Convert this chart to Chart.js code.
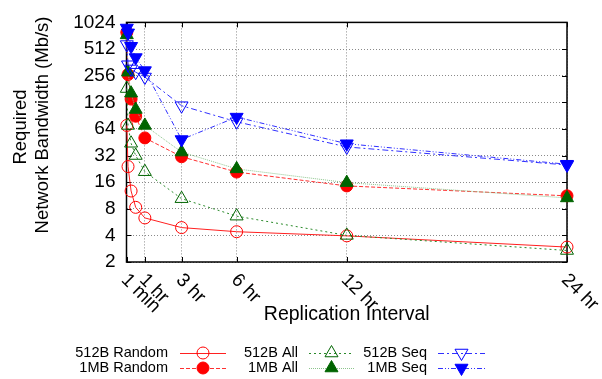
<!DOCTYPE html>
<html>
<head>
<meta charset="utf-8">
<script src="https://cdn.jsdelivr.net/npm/chart.js@4.4.1/dist/chart.umd.min.js"></script>
<style>
  html, body { margin: 0; padding: 0; background: #fff; }
</style>
</head>
<body>
<canvas id="bwChart" width="602" height="379"></canvas>
<script>
// replication interval, in minutes
const intervals = [1, 5, 15, 30, 60, 180, 360, 720, 1440];

// required bandwidth (Mb/s) per workload
const random512 = [70, 24, 12.7, 8.3, 6.3, 4.9, 4.4, 3.95, 2.95];
const random1M  = [790, 263, 139, 89, 50.6, 31, 20.8, 14.5, 11.2];
const all512    = [183, 70, 44, 32, 21, 10.4, 6.6, 4.0, 2.7];
const all1M     = [740, 280, 162, 106, 70, 35, 22.6, 15.8, 10.6];
const seq512    = [575, 340, 305, 280, 247, 117, 77, 40, 25];
const seq1M     = [885, 780, 550, 410, 292, 48.5, 87, 43.5, 25.5];

const yTicks = [2, 4, 8, 16, 32, 64, 128, 256, 512, 1024];
const xTicks = [1, 60, 180, 360, 720, 1440];
const xTickLabels = ['1 min', '1 hr', '3 hr', '6 hr', '12 hr', '24 hr'];

const FONT = "'Liberation Sans', Arial, Helvetica, sans-serif";
const GREEN = '#006400';

function pts(values) {
    return intervals.map((x, i) => ({ x: x, y: values[i] }));
}

const series = [
    { label: '512B Random', data: pts(random512), borderColor: '#ff2020', borderDash: [],
      pointStyle: 'circle', pointRadius: 6, pointBorderColor: '#ff0000', pointBackgroundColor: 'rgba(0,0,0,0)', pointRotation: 0 },
    { label: '1MB Random', data: pts(random1M), borderColor: '#ff3030', borderDash: [4, 2],
      pointStyle: 'circle', pointRadius: 6, pointBorderColor: '#ff0000', pointBackgroundColor: '#ff0000', pointRotation: 0 },
    { label: '512B All', data: pts(all512), borderColor: '#2a8a2a', borderDash: [2, 3],
      pointStyle: 'triangle', pointRadius: 7.5, pointBorderColor: GREEN, pointBackgroundColor: 'rgba(0,0,0,0)', pointRotation: 0 },
    { label: '1MB All', data: pts(all1M), borderColor: '#8cc48c', borderDash: [1, 1],
      pointStyle: 'triangle', pointRadius: 7.5, pointBorderColor: GREEN, pointBackgroundColor: GREEN, pointRotation: 0 },
    { label: '512B Seq', data: pts(seq512), borderColor: '#3030ff', borderDash: [6, 3, 2, 3],
      pointStyle: 'triangle', pointRadius: 7.5, pointBorderColor: '#0000ff', pointBackgroundColor: 'rgba(0,0,0,0)', pointRotation: 180 },
    { label: '1MB Seq', data: pts(seq1M), borderColor: '#3030ff', borderDash: [5, 2, 1, 2, 1, 2],
      pointStyle: 'triangle', pointRadius: 7.5, pointBorderColor: '#0000ff', pointBackgroundColor: '#0000ff', pointRotation: 180 }
];

// legend slots: column = workload, row = block size
const legendCols = [
    { textRight: 168, x1: 180, x2: 226 },
    { textRight: 298, x1: 309, x2: 354 },
    { textRight: 427, x1: 438, x2: 485 }
];
const legendRows = [353, 368];

// frame, inner tick marks, rotated x labels, titles and legend
const decorations = {
    id: 'decorations',
    beforeDatasetsDraw(chart) {
        const ctx = chart.ctx;
        const a = chart.chartArea;
        const xs = chart.scales.x, ys = chart.scales.y;
        ctx.save();
        ctx.strokeStyle = '#000';
        ctx.lineWidth = 1.5;
        ctx.strokeRect(a.left, a.top, a.right - a.left, a.bottom - a.top);
        ctx.lineWidth = 1;
        ctx.beginPath();
        yTicks.forEach(v => {
            const y = Math.round(ys.getPixelForValue(v)) + 0.5;
            ctx.moveTo(a.left, y); ctx.lineTo(a.left + 5, y);
            ctx.moveTo(a.right, y); ctx.lineTo(a.right - 5, y);
        });
        xTicks.forEach(v => {
            const x = Math.round(xs.getPixelForValue(v)) + 0.5;
            ctx.moveTo(x, a.bottom); ctx.lineTo(x, a.bottom - 5);
            ctx.moveTo(x, a.top); ctx.lineTo(x, a.top + 5);
        });
        ctx.stroke();
        ctx.restore();
    },
    afterDraw(chart) {
        const ctx = chart.ctx;
        const a = chart.chartArea;
        const xs = chart.scales.x;
        ctx.save();
        ctx.fillStyle = '#000';

        // x tick labels, rotated down to the right
        ctx.font = '19px ' + FONT;
        ctx.textAlign = 'left';
        ctx.textBaseline = 'middle';
        xTicks.forEach((v, i) => {
            ctx.save();
            ctx.translate(xs.getPixelForValue(v) - 2.5, a.bottom + 15);
            ctx.rotate(Math.PI / 4);
            ctx.fillText(xTickLabels[i], 0, 0);
            ctx.restore();
        });

        // axis titles
        ctx.font = '19.5px ' + FONT;
        ctx.textAlign = 'center';
        ctx.fillText('Replication Interval', (a.left + a.right) / 2, 315);
        ctx.font = '18.5px ' + FONT;
        ctx.save();
        ctx.translate(21, 127);
        ctx.rotate(-Math.PI / 2);
        ctx.fillText('Required', 0, 0);
        ctx.restore();
        ctx.save();
        ctx.translate(43, 125);
        ctx.rotate(-Math.PI / 2);
        ctx.fillText('Network Bandwidth (Mb/s)', 0, 0);
        ctx.restore();

        // legend
        ctx.font = '14.5px ' + FONT;
        chart.data.datasets.forEach((ds, i) => {
            const col = legendCols[Math.floor(i / 2)];
            const y = legendRows[i % 2];
            ctx.fillStyle = '#000';
            ctx.textAlign = 'right';
            ctx.fillText(ds.label, col.textRight, y);
            ctx.save();
            ctx.strokeStyle = ds.borderColor;
            ctx.lineWidth = 1;
            ctx.setLineDash(ds.borderDash);
            ctx.beginPath();
            ctx.moveTo(col.x1, Math.round(y) + 0.5);
            ctx.lineTo(col.x2, Math.round(y) + 0.5);
            ctx.stroke();
            ctx.setLineDash([]);
            ctx.fillStyle = ds.pointBackgroundColor;
            ctx.strokeStyle = ds.pointBorderColor;
            ctx.lineWidth = 1;
            Chart.helpers.drawPoint(ctx, {
                pointStyle: ds.pointStyle, rotation: ds.pointRotation,
                radius: ds.pointRadius, borderWidth: 1
            }, (col.x1 + col.x2) / 2, y);
            ctx.restore();
        });
        ctx.restore();
    }
};

new Chart(document.getElementById('bwChart'), {
    type: 'line',
    data: {
        datasets: series.map((s, i) => Object.assign({
            borderWidth: 1,
            pointBorderWidth: 1,
            fill: false,
            tension: 0,
            clip: false,
            order: series.length - i
        }, s))
    },
    options: {
        responsive: false,
        animation: false,
        layout: { padding: { top: 15, right: 35, left: 0, bottom: 0 } },
        plugins: { legend: { display: false }, tooltip: { enabled: false } },
        scales: {
            x: {
                type: 'linear',
                min: 0,
                max: 1440,
                afterBuildTicks: s => { s.ticks = xTicks.map(v => ({ value: v })); },
                afterFit: s => { s.height = 117; },
                ticks: { display: false },
                grid: { color: '#8a8a8a', lineWidth: 1, drawTicks: false },
                border: { display: false, dash: [1, 2] }
            },
            y: {
                type: 'logarithmic',
                min: 2,
                max: 1024,
                afterBuildTicks: s => { s.ticks = yTicks.map(v => ({ value: v })); },
                afterFit: s => { s.width = 126.5; },
                ticks: {
                    autoSkip: false,
                    padding: 11,
                    color: '#000',
                    font: { family: FONT, size: 19 },
                    callback: v => String(v)
                },
                grid: { color: '#8a8a8a', lineWidth: 1, drawTicks: false },
                border: { display: false, dash: [1, 2] }
            }
        }
    },
    plugins: [decorations]
});
</script>
</body>
</html>
